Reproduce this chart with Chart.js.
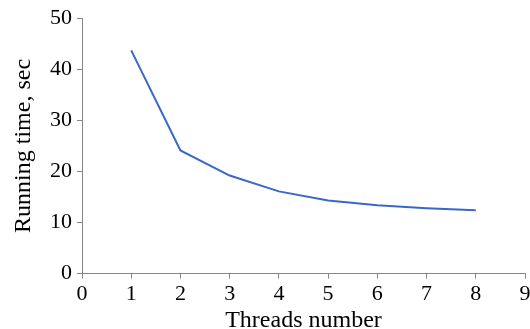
<!DOCTYPE html>
<html>
<head>
<meta charset="utf-8">
<script src="https://cdn.jsdelivr.net/npm/chart.js@4/dist/chart.umd.min.js"></script>
<style>
  html, body { margin: 0; padding: 0; background: #fff; }
  #wrap { width: 530px; height: 329px; }
</style>
</head>
<body>
<div id="wrap"><canvas id="myChart"></canvas></div>
<script>
var threads = [1, 2, 3, 4, 5, 6, 7, 8];
var runTimes = [43.7, 24.1, 19.2, 16.1, 14.3, 13.4, 12.8, 12.4];
var xTicks = [0, 1, 2, 3, 4, 5, 6, 7, 8, 9];
var yTicks = [0, 10, 20, 30, 40, 50];

function drawChart() {
    var ctx = document.getElementById('myChart').getContext('2d');
    var points = threads.map(function (t, i) { return { x: t, y: runTimes[i] }; });
    var family = '"Liberation Serif", "Times New Roman", serif';
    var tickFont = { family: family, size: 22 };
    var titleFont = { family: family, size: 24, lineHeight: 1 };

    new Chart(ctx, {
        type: 'line',
        data: {
            datasets: [{
                data: points,
                borderColor: '#3a67c8',
                borderWidth: 2,
                pointRadius: 0,
                fill: false,
                tension: 0
            }]
        },
        options: {
            responsive: true,
            maintainAspectRatio: false,
            animation: false,
            layout: { padding: { top: 2, right: 0, left: 12, bottom: -4 } },
            plugins: { legend: { display: false }, tooltip: { enabled: false } },
            scales: {
                x: {
                    type: 'linear',
                    min: 0,
                    max: 9,
                    afterBuildTicks: function (axis) {
                        axis.ticks = xTicks.map(function (v) { return { value: v }; });
                    },
                    afterFit: function (axis) {
                        // let the last label hang closer to the edge
                        axis.paddingRight = 5;
                    },
                    grid: { drawOnChartArea: false, tickLength: 5, color: '#868686' },
                    border: { color: '#868686', width: 1 },
                    ticks: { color: '#000', font: tickFont, padding: 2, maxRotation: 0 },
                    title: { display: true, text: 'Threads number', color: '#000', font: titleFont, padding: { top: 0, bottom: 0 } }
                },
                y: {
                    min: 0,
                    max: 50,
                    ticks: {
                        stepSize: 5,
                        color: '#000',
                        font: tickFont,
                        padding: 5,
                        callback: function (v) { return yTicks.indexOf(v) >= 0 ? v : ''; }
                    },
                    grid: { drawOnChartArea: false, tickLength: 5, color: '#868686' },
                    border: { color: '#868686', width: 1 },
                    title: { display: true, text: 'Running time, sec', color: '#000', font: titleFont, padding: { top: 0, bottom: 9 } }
                }
            }
        }
    });
}
drawChart();
</script>
</body>
</html>
